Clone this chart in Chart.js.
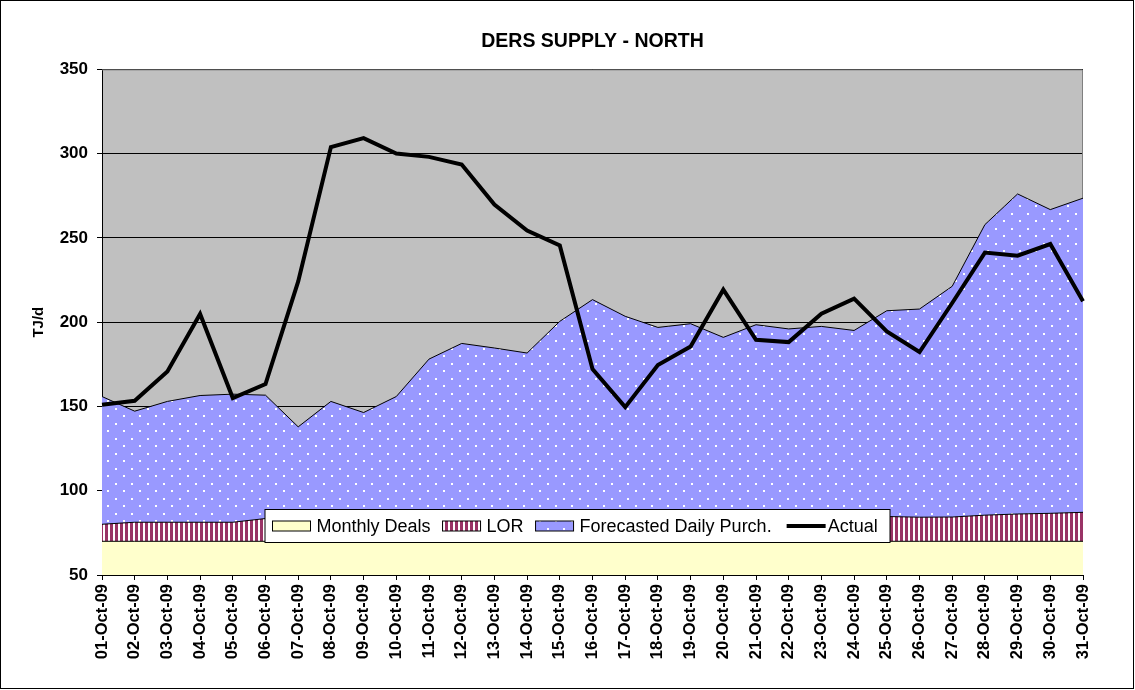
<!DOCTYPE html>
<html lang="en">
<head>
    <meta charset="UTF-8">
    <title>DERS Supply - North</title>
    <script src="https://cdn.jsdelivr.net/npm/chart.js@4"></script>
    <style>
        body {
            margin: 0;
            background-color: #ffffff;
        }
        #chart {
            display: block;
        }
    </style>
</head>
<body>
    <canvas id="chart" width="1135" height="690"></canvas>

    <script>
        // Chart data (TJ/d)
        const dates = [
            '01-Oct-09', '02-Oct-09', '03-Oct-09', '04-Oct-09', '05-Oct-09', '06-Oct-09', '07-Oct-09',
            '08-Oct-09', '09-Oct-09', '10-Oct-09', '11-Oct-09', '12-Oct-09', '13-Oct-09', '14-Oct-09',
            '15-Oct-09', '16-Oct-09', '17-Oct-09', '18-Oct-09', '19-Oct-09', '20-Oct-09', '21-Oct-09',
            '22-Oct-09', '23-Oct-09', '24-Oct-09', '25-Oct-09', '26-Oct-09', '27-Oct-09', '28-Oct-09',
            '29-Oct-09', '30-Oct-09', '31-Oct-09'
        ];
        const monthlyDeals = [70, 70, 70, 70, 70, 70, 70, 70, 70, 70, 70, 70, 70, 70, 70, 70,
                              70, 70, 70, 70, 70, 70, 70, 70, 70, 70, 70, 70, 70, 70, 70];
        const lor = [10.1, 11.3, 11.3, 11.3, 11.3, 13.5, 14.2, 14.3, 14.3, 14.3, 14.4, 14.4, 14.4, 14.5, 14.5, 14.5,
                     14.5, 14.5, 14.5, 14.5, 14.6, 14.6, 14.6, 14.7, 14.7, 14.3, 14.4, 15.5, 16.2, 16.6, 17.2];
        const forecastPurch = [75.8, 65.9, 71.7, 75.2, 76.0, 73.2, 53.7, 68.7, 62.1, 71.6, 93.7, 103.0, 100.3, 97.2, 116.0, 128.9,
                               119.0, 112.4, 114.6, 106.5, 113.9, 111.4, 112.9, 110.4, 122.1, 123.5, 136.9, 172.4, 189.9, 180.2, 186.4];
        const actual = [151.0, 153.4, 170.8, 204.9, 155.0, 163.3, 224.2, 303.9, 309.2, 300.1, 298.1, 293.6, 269.8, 254.4, 245.5, 172.2,
                        149.6, 174.6, 185.6, 219.3, 189.6, 188.2, 205.0, 214.0, 194.5, 182.3, 211.4, 241.3, 239.5, 246.4, 212.4];

        const FONT = "'Liberation Sans', Arial, sans-serif";

        // vertical maroon / white stripes for LOR
        function makeStripes() {
            const c = document.createElement('canvas');
            c.width = 5;
            c.height = 5;
            const g = c.getContext('2d');
            g.fillStyle = '#ffffff';
            g.fillRect(0, 0, 5, 5);
            g.fillStyle = '#993366';
            g.fillRect(0, 0, 3, 5);
            return g.createPattern(c, 'repeat');
        }

        // periwinkle with small white dots for the forecast area
        function makeDots() {
            const c = document.createElement('canvas');
            c.width = 16;
            c.height = 15;
            const g = c.getContext('2d');
            g.fillStyle = '#9999ff';
            g.fillRect(0, 0, 16, 15);
            g.fillStyle = '#ffffff';
            g.fillRect(3, 3, 2, 2);
            g.fillRect(11, 10, 2, 2);
            return g.createPattern(c, 'repeat');
        }

        const stripePattern = makeStripes();
        const dotPattern = makeDots();

        // grey plot area, gray frame on top/right, black frame round the picture
        const plotBackground = {
            id: 'plotBackground',
            beforeDraw(chart) {
                const {ctx, chartArea: a} = chart;
                ctx.save();
                ctx.fillStyle = '#ffffff';
                ctx.fillRect(0, 0, chart.width, chart.height);
                ctx.fillStyle = '#c0c0c0';
                ctx.fillRect(a.left, a.top, a.right - a.left, a.bottom - a.top);
                ctx.restore();
            },
            beforeDatasetsDraw(chart) {
                const {ctx, chartArea: a} = chart;
                ctx.save();
                ctx.strokeStyle = '#808080';
                ctx.lineWidth = 1;
                ctx.beginPath();
                ctx.moveTo(a.left, a.top + 0.5);
                ctx.lineTo(a.right - 0.5, a.top + 0.5);
                ctx.lineTo(a.right - 0.5, a.bottom);
                ctx.stroke();
                ctx.restore();
            },
            afterDraw(chart) {
                const ctx = chart.ctx;
                ctx.save();
                ctx.strokeStyle = '#000000';
                ctx.lineWidth = 1;
                ctx.strokeRect(0.5, 0.5, chart.width - 2, chart.height - 2);
                ctx.restore();
            }
        };

        // legend box sitting inside the plot, near the bottom
        const boxLegend = {
            id: 'boxLegend',
            afterDraw(chart) {
                const ctx = chart.ctx;
                const boxX = 265, boxY = 509.5, boxW = 625, boxH = 33;
                const midY = boxY + boxH / 2;
                ctx.save();
                ctx.fillStyle = '#ffffff';
                ctx.fillRect(boxX, boxY, boxW, boxH);
                ctx.strokeStyle = '#000000';
                ctx.lineWidth = 1;
                ctx.strokeRect(boxX, boxY, boxW, boxH);

                ctx.font = '18px ' + FONT;
                ctx.textBaseline = 'middle';
                ctx.textAlign = 'left';
                let x = 272.5;
                chart.data.datasets.forEach(ds => {
                    if (ds.fill === false) {
                        ctx.strokeStyle = ds.borderColor;
                        ctx.lineWidth = 4;
                        ctx.beginPath();
                        ctx.moveTo(x + 3, midY);
                        ctx.lineTo(x + 42, midY);
                        ctx.stroke();
                    } else {
                        ctx.fillStyle = ds.backgroundColor;
                        ctx.fillRect(x, midY - 5, 38, 10);
                        ctx.strokeStyle = '#000000';
                        ctx.lineWidth = 1;
                        ctx.strokeRect(x, midY - 5, 38, 10);
                    }
                    x += 44;
                    ctx.fillStyle = '#000000';
                    ctx.fillText(ds.label, x, midY + 1);
                    x += ctx.measureText(ds.label).width + 12;
                });
                ctx.restore();
            }
        };

        const ctx = document.getElementById('chart').getContext('2d');
        const supplyChart = new Chart(ctx, {
            type: 'line',
            data: {
                labels: dates,
                datasets: [
                    {
                        label: 'Monthly Deals',
                        data: monthlyDeals,
                        stack: 'supply',
                        fill: 'start',
                        backgroundColor: '#ffffcc',
                        borderColor: '#000000',
                        borderWidth: 1,
                        pointRadius: 0,
                        order: 1
                    },
                    {
                        label: 'LOR',
                        data: lor,
                        stack: 'supply',
                        fill: '-1',
                        backgroundColor: stripePattern,
                        borderColor: '#000000',
                        borderWidth: 1,
                        pointRadius: 0,
                        order: 1
                    },
                    {
                        label: 'Forecasted Daily Purch.',
                        data: forecastPurch,
                        stack: 'supply',
                        fill: '-1',
                        backgroundColor: dotPattern,
                        borderColor: '#000000',
                        borderWidth: 1,
                        pointRadius: 0,
                        order: 1
                    },
                    {
                        label: 'Actual',
                        data: actual,
                        stack: 'actual',
                        fill: false,
                        borderColor: '#000000',
                        borderWidth: 4,
                        pointRadius: 0,
                        tension: 0,
                        order: 0
                    }
                ]
            },
            options: {
                responsive: false,
                animation: false,
                devicePixelRatio: 1,
                layout: {
                    padding: { top: 30, left: 20, right: 52, bottom: 15 }
                },
                plugins: {
                    legend: { display: false },
                    tooltip: { enabled: false },
                    title: {
                        display: true,
                        text: 'DERS SUPPLY - NORTH',
                        fullSize: false,
                        color: '#000000',
                        font: { family: FONT, size: 19.5, weight: 'bold' },
                        padding: { top: 0, bottom: 16 }
                    }
                },
                scales: {
                    x: {
                        offset: false,
                        grid: {
                            display: true,
                            drawOnChartArea: false,
                            tickLength: 5,
                            color: '#000000'
                        },
                        border: { color: '#000000', width: 1 },
                        ticks: {
                            autoSkip: false,
                            minRotation: 90,
                            maxRotation: 90,
                            padding: 4,
                            color: '#000000',
                            font: { family: FONT, size: 16.5, weight: 'bold' }
                        },
                        afterFit(scale) {
                            scale.height = 100;
                        }
                    },
                    y: {
                        stacked: true,
                        min: 50,
                        max: 350,
                        grid: {
                            color: '#000000',
                            tickLength: 5,
                            tickColor: '#000000'
                        },
                        border: { color: '#000000', width: 1 },
                        ticks: {
                            stepSize: 50,
                            padding: 9,
                            color: '#000000',
                            font: { family: FONT, size: 17, weight: 'bold' }
                        },
                        title: {
                            display: true,
                            text: 'TJ/d',
                            color: '#000000',
                            padding: { top: 10, bottom: 0 },
                            font: { family: FONT, size: 15, weight: 'bold' }
                        },
                        afterFit(scale) {
                            scale.width = 82;
                        }
                    }
                }
            },
            plugins: [plotBackground, boxLegend]
        });
    </script>
</body>
</html>
